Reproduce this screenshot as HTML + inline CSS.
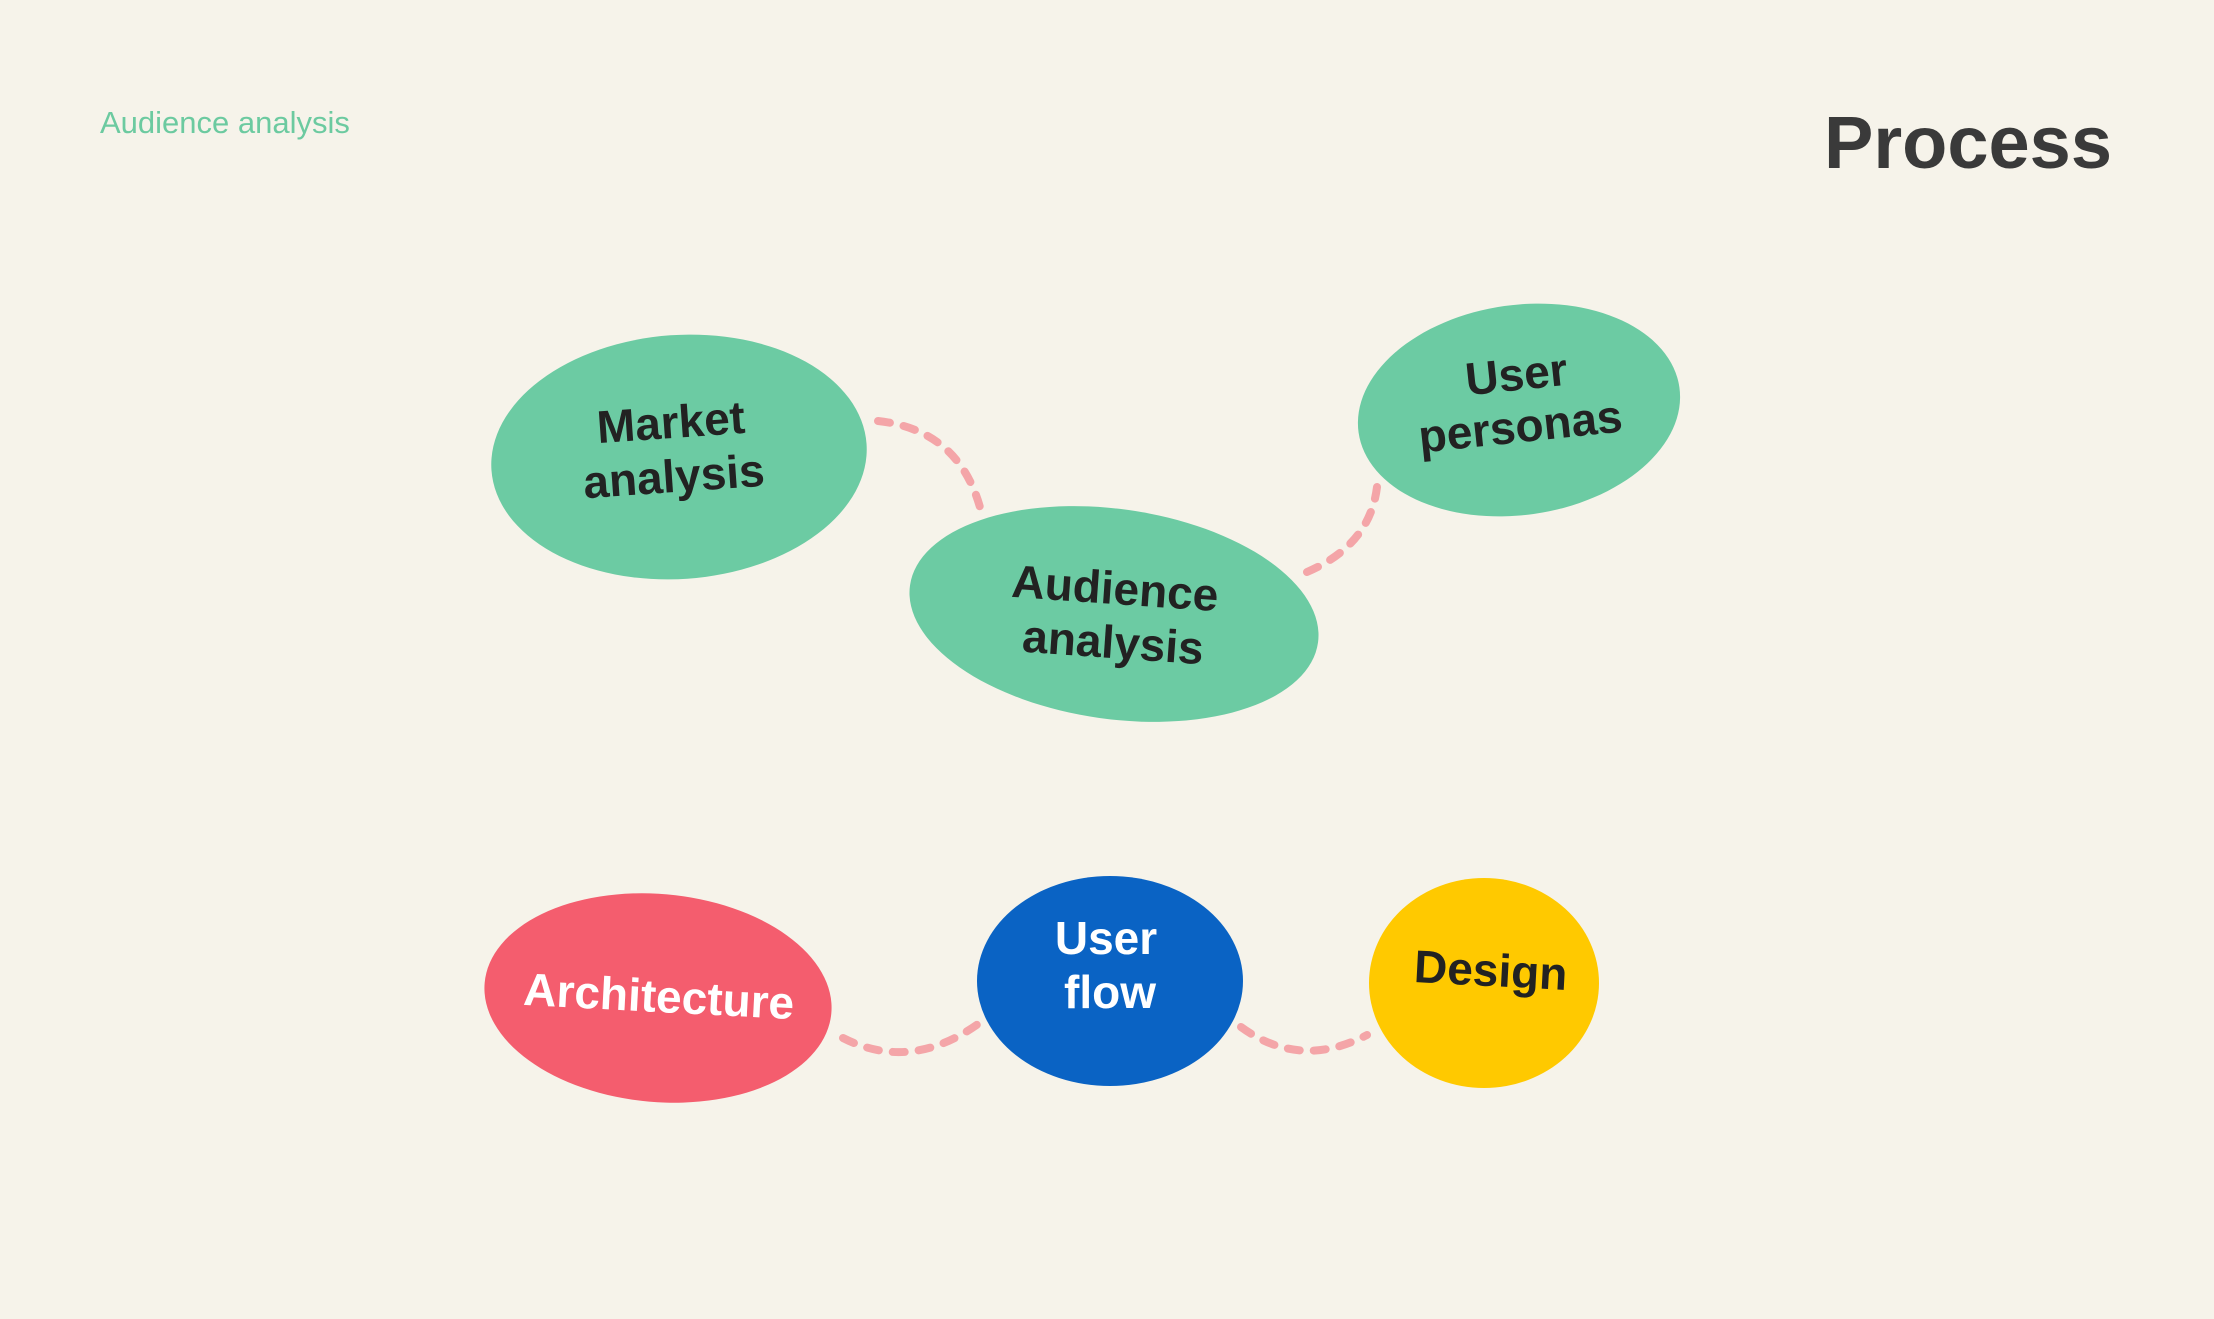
<!DOCTYPE html>
<html><head><meta charset="utf-8"><style>
html,body{margin:0;padding:0;background:#f6f3ea;}
svg{display:block}
text{font-family:"Liberation Sans",sans-serif;font-weight:bold;}
</style></head><body>
<svg width="2214" height="1319" viewBox="0 0 2214 1319" xmlns="http://www.w3.org/2000/svg">
<rect width="2214" height="1319" fill="#f6f3ea"/>
<text x="100" y="133" font-size="31" fill="#6ccaa0" font-weight="normal" style="font-weight:normal">Audience analysis</text>
<text x="2112" y="168" font-size="74" fill="#3a3a3a" text-anchor="end">Process</text>
<g fill="none" stroke="#f4a5a8" stroke-width="8" stroke-linecap="round" stroke-dasharray="12 14">
<path d="M878 421 Q960 430 981 511"/>
<path d="M1307 572 Q1370 545 1377 487"/>
<path d="M843 1038 Q910 1072 978 1024"/>
<path d="M1241 1027 Q1300 1070 1367 1035"/>
</g>
<ellipse cx="679" cy="457" rx="188" ry="122" fill="#6ccba3" transform="rotate(-4 679 457)"/>
<ellipse cx="1114" cy="614" rx="206" ry="105" fill="#6ccba3" transform="rotate(8 1114 614)"/>
<ellipse cx="1519" cy="410" rx="162" ry="105" fill="#6ccba3" transform="rotate(-8 1519 410)"/>
<ellipse cx="658" cy="998" rx="174" ry="104" fill="#f45d6e" transform="rotate(5 658 998)"/>
<ellipse cx="1110" cy="981" rx="133" ry="105" fill="#0a63c4"/>
<ellipse cx="1484" cy="983" rx="115" ry="105" fill="#ffc900"/>
<g font-size="46" text-anchor="middle" fill="#222">
<text x="672" y="438" transform="rotate(-4 672 438)">Market</text>
<text x="675" y="492" transform="rotate(-4 675 492)">analysis</text>
<text x="1114" y="604" transform="rotate(4 1114 604)">Audience</text>
<text x="1112" y="658" transform="rotate(4 1112 658)">analysis</text>
<text x="1518" y="390" transform="rotate(-6 1518 390)">User</text>
<text x="1522" y="442" transform="rotate(-6 1522 442)">personas</text>
<text x="1490" y="986" transform="rotate(3 1490 986)">Design</text>
</g>
<g font-size="46" text-anchor="middle" fill="#ffffff">
<text x="658" y="1012" transform="rotate(3 658 1012)">Architecture</text>
<text x="1106" y="954">User</text>
<text x="1110" y="1008">flow</text>
</g>
</svg>
</body></html>
